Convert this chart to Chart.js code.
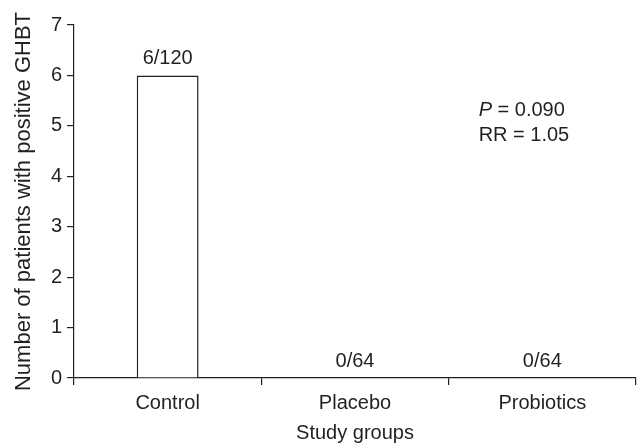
<!DOCTYPE html>
<html>
<head>
<meta charset="utf-8">
<script src="https://cdn.jsdelivr.net/npm/chart.js@4/dist/chart.umd.min.js"></script>
<style>
  html, body { margin: 0; padding: 0; background: #fff; }
  #wrap { width: 638px; height: 445px; }
</style>
</head>
<body>
<div id="wrap"><canvas id="myChart"></canvas></div>
<script>
// data
const groups = ['Control', 'Placebo', 'Probiotics'];
const positives = [6, 0, 0];
const ratioLabels = ['6/120', '0/64', '0/64'];
const yTicks = [0, 1, 2, 3, 4, 5, 6, 7];
const statLines = [['P', ' = 0.090'], ['RR = 1.05', '']];

const ink = '#231f20';
const font = '"Liberation Sans", Arial, sans-serif';
const fs = 20;

// draws the n/N labels over the bars and the P / RR note
const barLabels = {
  id: 'barLabels',
  afterDatasetsDraw(chart) {
    const ctx = chart.ctx;
    const x = chart.scales.x, y = chart.scales.y;
    ctx.save();
    ctx.fillStyle = ink;
    ctx.font = fs + 'px ' + font;
    ctx.textAlign = 'center';
    ctx.textBaseline = 'alphabetic';
    chart.getDatasetMeta(0).data.forEach((bar, i) => {
      ctx.fillText(ratioLabels[i], bar.x, bar.y - 11);
    });

    // stats note, top right
    ctx.textAlign = 'left';
    ctx.textBaseline = 'middle';
    const left = x.left + (x.right - x.left) * 0.72;
    const rows = [y.getPixelForValue(5.31), y.getPixelForValue(4.8)];
    statLines.forEach((parts, i) => {
      let px = left;
      if (parts[1]) {
        ctx.font = 'italic ' + fs + 'px ' + font;
        ctx.fillText(parts[0], px, rows[i]);
        px += ctx.measureText(parts[0]).width;
        ctx.font = fs + 'px ' + font;
        ctx.fillText(parts[1], px, rows[i]);
      } else {
        ctx.font = fs + 'px ' + font;
        ctx.fillText(parts[0], px, rows[i]);
      }
    });
    ctx.restore();
  }
};

var ctx = document.getElementById('myChart').getContext('2d');
var chart = new Chart(ctx, {
  type: 'bar',
  data: {
    labels: groups,
    datasets: [{
      data: positives,
      backgroundColor: '#ffffff',
      borderColor: ink,
      borderWidth: 1.5,
      borderSkipped: 'bottom',
      barPercentage: 0.33,
      categoryPercentage: 1.0
    }]
  },
  options: {
    responsive: true,
    maintainAspectRatio: false,
    animation: false,
    layout: { padding: { top: 25, right: 2, left: 0, bottom: 0 } },
    plugins: {
      legend: { display: false },
      tooltip: { enabled: false }
    },
    scales: {
      x: {
        offset: true,
        afterFit: (s) => { s.height = 67; },
        grid: {
          offset: true,
          drawOnChartArea: false,
          drawTicks: true,
          tickLength: 7,
          color: ink,
          lineWidth: 1.2
        },
        border: { display: true, color: ink, width: 1.2 },
        ticks: { color: ink, font: { family: font, size: fs }, padding: 6 },
        title: {
          display: true,
          text: 'Study groups',
          color: ink,
          font: { family: font, size: fs },
          padding: { top: 11, bottom: 0 }
        }
      },
      y: {
        min: 0,
        max: 7,
        afterFit: (s) => { s.width = 74; },
        afterBuildTicks: (s) => { s.ticks = yTicks.map(v => ({ value: v })); },
        grid: {
          drawOnChartArea: false,
          drawTicks: true,
          tickLength: 7,
          color: ink,
          lineWidth: 1.2
        },
        border: { display: true, color: ink, width: 1.2 },
        ticks: { color: ink, font: { family: font, size: fs }, padding: 5 },
        title: {
          display: true,
          text: 'Number of patients with positive GHBT',
          color: ink,
          font: { family: font, size: 22 },
          padding: { top: 11, bottom: 0 }
        }
      }
    }
  },
  plugins: [barLabels]
});
</script>
</body>
</html>
